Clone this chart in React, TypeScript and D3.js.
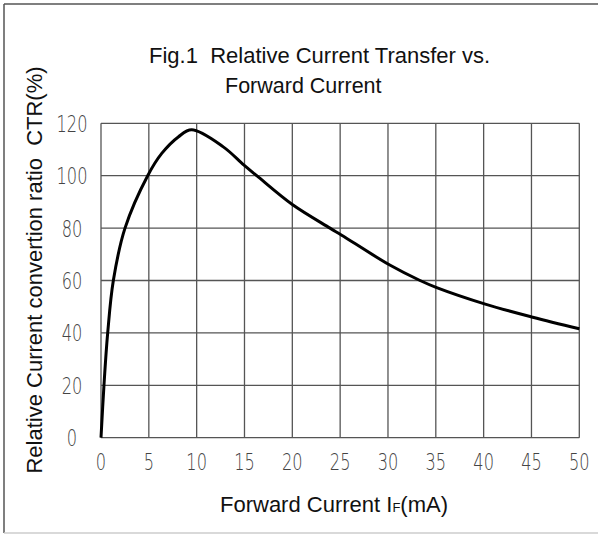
import * as d3 from "d3";

// forward current IF (mA) and relative CTR (%)
const currentMA = [0, 0.31, 0.7, 1.29, 2.51, 4.88, 6.35, 8.08, 9.48, 12.78, 14.95, 16.28, 20, 23.94, 25.16, 30.14, 33.35, 35.09, 40.17, 45.13, 50];
const ctrPct = [0, 20, 40, 60, 80, 100, 108.5, 114.8, 117.5, 111, 104, 100, 89, 80, 77.3, 66, 60, 57.3, 51, 46, 41.6];

const xTicks = [0, 5, 10, 15, 20, 25, 30, 35, 40, 45, 50];
const yTicks = [0, 20, 40, 60, 80, 100, 120];

const W = 598;
const H = 536;
const left = 101;
const right = 579.3;
const top = 123.3;
const bottom = 437.7;

const sans = "Arial, 'Liberation Sans', sans-serif";
const thin = "'DejaVu Sans', sans-serif";

const App = () => {
  const x = d3.scaleLinear().domain([0, 50]).range([left, right]);
  const y = d3.scaleLinear().domain([0, 120]).range([bottom, top]);

  const line = d3
    .line<number>()
    .x((d) => x(currentMA[d]))
    .y((d) => y(ctrPct[d]))
    .curve(d3.curveCatmullRom.alpha(0.5));

  return (
    <svg
      width={W}
      height={H}
      viewBox={`0 0 ${W} ${H}`}
      style={{ position: "absolute", left: 0, top: 0, background: "#fff" }}
    >
      <rect x={0} y={0} width={W} height={H} fill="#fff" />
      {/* outer frame */}
      <line x1={4} y1={4} x2={W} y2={4} stroke="#555" strokeWidth={1.5} />
      <line x1={4} y1={4} x2={4} y2={533} stroke="#555" strokeWidth={1.5} />
      <line x1={4} y1={533} x2={W} y2={533} stroke="#ccc" strokeWidth={1.5} />

      <text x={149} y={62.7} fontFamily={sans} fontSize={22} fill="#111" xmlSpace="preserve">
        Fig.1  Relative Current Transfer vs.
      </text>
      <text x={225} y={92.7} fontFamily={sans} fontSize={21.5} fill="#111">
        Forward Current
      </text>

      {/* grid */}
      <g stroke="#555" strokeWidth={1.3}>
        {xTicks.map((t) => (
          <line key={"gx" + t} x1={x(t)} x2={x(t)} y1={top} y2={bottom} />
        ))}
        {yTicks.map((t) => (
          <line key={"gy" + t} x1={left} x2={right} y1={y(t)} y2={y(t)} />
        ))}
      </g>

      <path
        d={line(d3.range(currentMA.length)) ?? ""}
        fill="none"
        stroke="#000"
        strokeWidth={3}
        strokeLinejoin="round"
      />

      <g fontFamily={thin} fontWeight={200} fontSize={18} fill="#444" textAnchor="middle">
        {yTicks.map((t) => (
          <text key={"ly" + t} transform={`translate(72,${y(t) + 8.5}) scale(0.9,1.3)`}>
            {t}
          </text>
        ))}
        {xTicks.map((t) => (
          <text key={"lx" + t} transform={`translate(${x(t)},${470}) scale(0.9,1.3)`}>
            {t}
          </text>
        ))}
      </g>

      <text x={334} y={512} fontFamily={sans} fontSize={22} fill="#111" textAnchor="middle">
        Forward Current I<tspan fontSize={13}>F</tspan>(mA)
      </text>

      <text
        transform="translate(42,270) rotate(-90)"
        fontFamily={sans}
        fontSize={22}
        fill="#111"
        textAnchor="middle"
        xmlSpace="preserve"
      >
        Relative Current convertion ratio  CTR(%)
      </text>
    </svg>
  );
};

export default App;
